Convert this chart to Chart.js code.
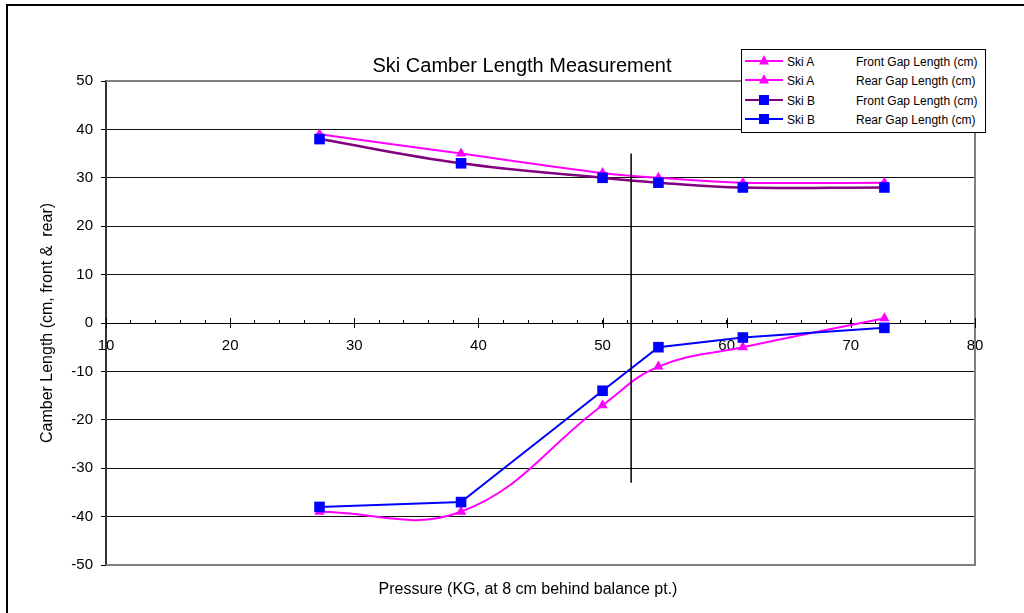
<!DOCTYPE html>
<html>
<head>
<meta charset="utf-8">
<script src="https://cdn.jsdelivr.net/npm/chart.js@4.4.1/dist/chart.umd.min.js"></script>
<style>
  html, body { margin: 0; padding: 0; background: #fff; overflow: hidden; }
  #wrap { position: relative; width: 1024px; height: 613px; }
  #frame { position: absolute; left: 6px; top: 4px; width: 1100px; height: 700px;
           border-left: 2px solid #000; border-top: 2px solid #000; pointer-events: none; }
  #legend { position: absolute; left: 741px; top: 49px; width: 243px; height: 80px;
            background: #fff; border: 1px solid #000; font: 12px "Liberation Sans", Arial, sans-serif;
            color: #000; padding-top: 2px; }
  .row { position: relative; height: 19.4px; }
  .row svg { position: absolute; left: 3px; top: 3px; }
  .row .ski { position: absolute; left: 45px; top: 3px; }
  .row .gap { position: absolute; left: 114px; top: 3px; }
</style>
</head>
<body>
<div id="wrap">
  <canvas id="camberChart" width="1024" height="613"></canvas>
  <div id="frame"></div>
  <div id="legend"></div>
</div>
<script>
// ----------------------------
// 1. Data
// ----------------------------
const pressure = [27.2, 38.6, 50.0, 54.5, 61.3, 72.7];

const skiAFront = [39, 35, 31, 30, 29, 29];
const skiARear  = [-39, -39, -17, -9, -5, 1];
const skiBFront = [38, 33, 30, 29, 28, 28];
const skiBRear  = [-38, -37, -14, -5, -3, -1];

// balance point marker (vertical line)
const balanceX = [52.3, 52.3];
const balanceY = [35, -33];

const seriesSki = ['Ski A', 'Ski A', 'Ski B', 'Ski B'];
const seriesGap = ['Front Gap Length (cm)', 'Rear Gap Length (cm)', 'Front Gap Length (cm)', 'Rear Gap Length (cm)'];
const lineColors = ['#FF00FF', '#FF00FF', '#800080', '#0000FF'];
const markerColors = ['#FF00FF', '#FF00FF', '#0000FF', '#0000FF'];
const markerStyles = ['triangle', 'triangle', 'rect', 'rect'];

const yTicks = [-50, -40, -30, -20, -10, 0, 10, 20, 30, 40, 50];

const chartTitle = 'Ski Camber Length Measurement';
const xTitle = 'Pressure (KG, at 8 cm behind balance pt.)';
const yTitle = 'Camber Length (cm, front &  rear)';

// ----------------------------
// 2. Build datasets
// ----------------------------
function toPoints(xs, ys) {
    return xs.map((x, i) => ({ x: x, y: ys[i] }));
}

const seriesValues = [skiAFront, skiARear, skiBFront, skiBRear];
const tensions = [0.4, 0.4, 0.4, 0];
const widths = [2, 2, 2.5, 2];

const datasets = seriesValues.map((vals, i) => ({
    label: seriesSki[i] + ' ' + seriesGap[i],
    data: toPoints(pressure, vals),
    showLine: true,
    borderColor: lineColors[i],
    borderWidth: widths[i],
    backgroundColor: markerColors[i],
    pointBackgroundColor: markerColors[i],
    pointBorderColor: markerColors[i],
    pointBorderWidth: 0,
    pointStyle: markerStyles[i],
    pointRadius: markerStyles[i] === 'rect' ? 7.5 : 6,
    tension: tensions[i],
    order: 4 - i
}));

datasets.push({
    label: 'balance',
    data: toPoints(balanceX, balanceY),
    showLine: true,
    borderColor: '#000',
    borderWidth: 1.5,
    pointRadius: 0,
    order: 0
});

// ----------------------------
// 3. Plugins: plot frame, titles, major x ticks
// ----------------------------
const FONT = '"Liberation Sans", Arial, sans-serif';

const framePlugin = {
    id: 'plotFrame',
    beforeDatasetsDraw(chart) {
        const { ctx, chartArea: a } = chart;
        ctx.save();
        ctx.strokeStyle = '#808080';
        ctx.lineWidth = 2;
        ctx.beginPath();
        ctx.moveTo(a.left, a.top);
        ctx.lineTo(a.right, a.top);
        ctx.lineTo(a.right, a.bottom);
        ctx.lineTo(a.left, a.bottom);
        ctx.stroke();
        // major ticks cross the x axis
        const xs = chart.scales.x;
        const y0 = chart.scales.y.getPixelForValue(0);
        ctx.strokeStyle = '#000';
        ctx.lineWidth = 1;
        xs.ticks.forEach(t => {
            if (t.value % 10 === 0) {
                const px = Math.round(xs.getPixelForValue(t.value)) + 0.5;
                ctx.beginPath();
                ctx.moveTo(px, y0 - 5);
                ctx.lineTo(px, y0 + 5);
                ctx.stroke();
            }
        });
        ctx.restore();
    },
    afterDraw(chart) {
        const { ctx, chartArea: a } = chart;
        ctx.save();
        ctx.fillStyle = '#000';
        ctx.textAlign = 'center';
        ctx.textBaseline = 'alphabetic';
        ctx.font = '20px ' + FONT;
        ctx.fillText(chartTitle, 522, 72);
        ctx.font = '16px ' + FONT;
        ctx.fillText(xTitle, 528, 594);
        ctx.translate(52, (a.top + a.bottom) / 2);
        ctx.rotate(-Math.PI / 2);
        ctx.fillText(yTitle, 0, 0);
        ctx.restore();
    }
};

// ----------------------------
// 4. Chart
// ----------------------------
const ctx = document.getElementById('camberChart').getContext('2d');
new Chart(ctx, {
    type: 'scatter',
    data: { datasets: datasets },
    options: {
        responsive: false,
        animation: false,
        layout: { padding: { left: 0, top: 81, right: 49, bottom: 48 } },
        plugins: {
            legend: { display: false },
            tooltip: { enabled: false },
            title: { display: false }
        },
        scales: {
            x: {
                type: 'linear',
                position: { y: 0 },
                min: 10,
                max: 80,
                grid: { drawOnChartArea: false, drawTicks: true, tickLength: -4, color: '#000' },
                border: { color: '#000', width: 1 },
                ticks: {
                    stepSize: 2,
                    autoSkip: false,
                    maxRotation: 0,
                    padding: 18,
                    color: '#000',
                    font: { family: FONT, size: 15 },
                    callback: v => (v % 10 === 0 ? String(v) : '')
                }
            },
            y: {
                min: yTicks[0],
                max: yTicks[yTicks.length - 1],
                afterFit: scale => { scale.width = 106; },
                afterBuildTicks: scale => { scale.ticks = yTicks.map(v => ({ value: v })); },
                grid: {
                    color: c => (Math.abs(c.tick.value) === 50 ? 'rgba(0,0,0,0)' : '#111'),
                    tickColor: '#000',
                    tickLength: 5,
                    lineWidth: 1
                },
                border: { color: '#333', width: 2 },
                ticks: {
                    padding: 8,
                    color: '#000',
                    font: { family: FONT, size: 15 }
                }
            }
        }
    },
    plugins: [framePlugin]
});

// ----------------------------
// 5. Legend (HTML)
// ----------------------------
function markerSvg(i) {
    const c = markerColors[i];
    const mark = markerStyles[i] === 'rect'
        ? `<rect x="14" y="1" width="10" height="10" fill="${c}"/>`
        : `<polygon points="19,0 24,9.5 14,9.5" fill="${c}"/>`;
    return `<svg width="38" height="12"><line x1="0" y1="6" x2="38" y2="6" stroke="${lineColors[i]}" stroke-width="2"/>${mark}</svg>`;
}

const legend = document.getElementById('legend');
seriesSki.forEach((ski, i) => {
    const row = document.createElement('div');
    row.className = 'row';
    row.innerHTML = `${markerSvg(i)}<span class="ski">${ski}</span><span class="gap">${seriesGap[i]}</span>`;
    legend.appendChild(row);
});
</script>
</body>
</html>
